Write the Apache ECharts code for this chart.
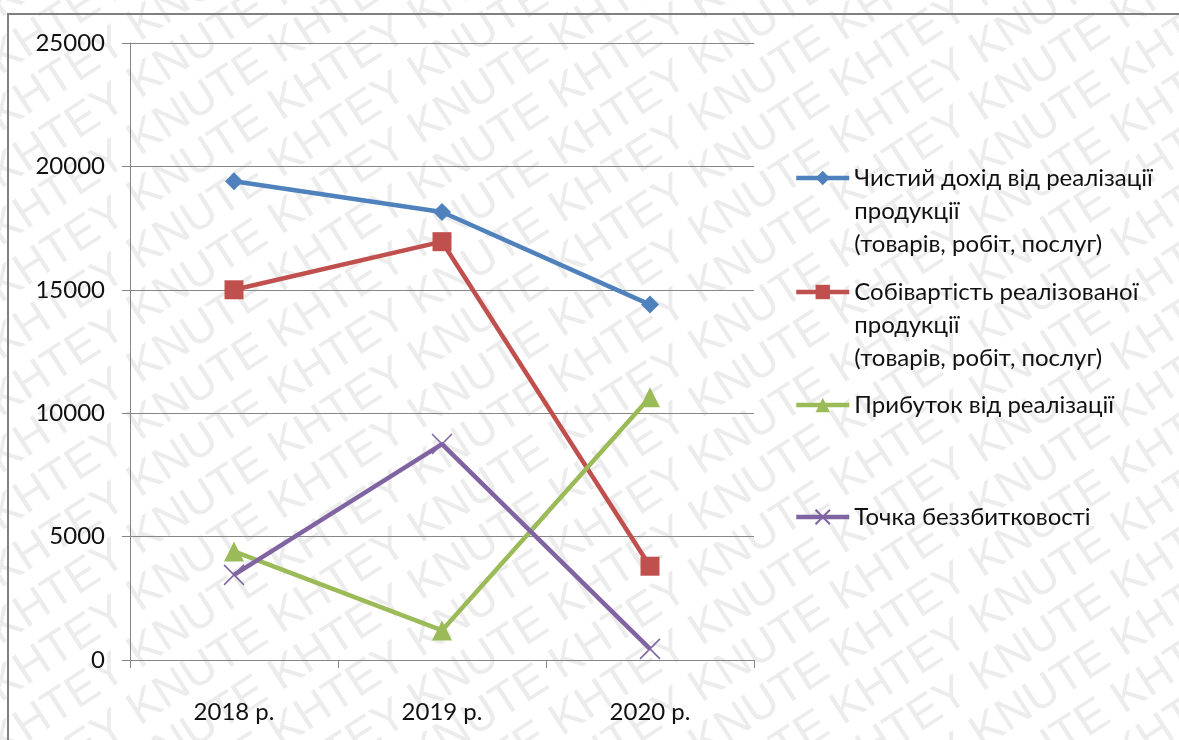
<!DOCTYPE html>
<html>
<head>
<meta charset="utf-8">
<script src="https://cdn.jsdelivr.net/npm/echarts@6/dist/echarts.min.js"></script>
<style>
html,body{margin:0;padding:0;background:#fff;}
#chart{width:1179px;height:740px;}
</style>
</head>
<body>
<div id="chart"></div>
<script>
const categories = ['2018 р.', '2019 р.', '2020 р.'];
const seriesNames = [
  'Чистий дохід від реалізації\nпродукції\n(товарів, робіт, послуг)',
  'Собівартість реалізованої\nпродукції\n(товарів, робіт, послуг)',
  'Прибуток від реалізації',
  'Точка беззбитковості'
];
const revenue = [19400, 18150, 14400];
const cost = [15000, 16950, 3800];
const profit = [4400, 1200, 10650];
const breakEven = [3450, 8750, 450];
const yMin = 0, yMax = 25000, yStep = 5000;

const FONT = 'Lato, "Open Sans", sans-serif';
const FS = 24;
const LH = 33;
const colors = ['#4f81bd', '#c0504d', '#9bbb59', '#8064a2'];

// watermark
const wm = [];
const ang = 33 * Math.PI / 180;
const wmText = Array(14).fill('KHTEY KNUTE').join(' ');
for (let i = -4; i < 36; i++) {
  wm.push({
    type: 'text', x: -300, y: i * 57, rotation: ang, z: -10, silent: true,
    style: { text: wmText, font: '46px "Liberation Sans", Arial, sans-serif', fill: '#ececec' }
  });
}

const chart = echarts.init(document.getElementById('chart'));
const iconY = [178, 292, 405, 517];
const legends = seriesNames.map((n, i) => {
  const lines = n.split('\n').length;
  const H = (2 * lines - 1) * LH;
  return {
    data: [n], left: 794, top: iconY[i] - H / 2, padding: 0, orient: 'vertical',
    itemWidth: 53, itemHeight: 18, selectedMode: false,
    lineStyle: { width: 4.5 },
    formatter: function (name) { return '\n'.repeat(lines - 1) + name; },
    textStyle: { fontFamily: FONT, fontSize: FS, color: '#111', lineHeight: LH }
  };
});

chart.setOption({
  backgroundColor: '#fff',
  animation: false,
  color: colors,
  graphic: wm.concat([{
    type: 'rect', shape: { x: 8, y: 14, width: 1400, height: 900 }, z: 100, silent: true,
    style: { fill: 'none', stroke: '#808080', lineWidth: 2 }
  }]),
  grid: { left: 130, right: 425, top: 43, bottom: 80 },
  legend: legends,
  xAxis: {
    type: 'category', data: categories, boundaryGap: true,
    axisLine: { lineStyle: { color: '#868686', width: 1 } },
    axisTick: { show: true, length: 8, lineStyle: { color: '#868686' } },
    axisLabel: { fontFamily: FONT, fontSize: FS, color: '#111', margin: 40 }
  },
  yAxis: {
    type: 'value', min: yMin, max: yMax, interval: yStep,
    axisLine: { show: true, lineStyle: { color: '#868686', width: 1 } },
    axisTick: { show: true, length: 8, lineStyle: { color: '#868686' } },
    splitLine: { lineStyle: { color: '#868686', width: 1 } },
    axisLabel: { fontFamily: FONT, fontSize: FS, color: '#111', margin: 25, formatter: function (v) { return String(v); } }
  },
  series: [
    { name: seriesNames[0], type: 'line', data: revenue, symbol: 'diamond', symbolSize: 18,
      lineStyle: { width: 4.5, color: colors[0] }, itemStyle: { color: colors[0] } },
    { name: seriesNames[1], type: 'line', data: cost, symbol: 'rect', symbolSize: 19,
      lineStyle: { width: 4.5, color: colors[1] }, itemStyle: { color: colors[1] } },
    { name: seriesNames[2], type: 'line', data: profit, symbol: 'triangle', symbolSize: 20,
      lineStyle: { width: 4.5, color: colors[2] }, itemStyle: { color: colors[2] } },
    { name: seriesNames[3], type: 'line', data: breakEven, symbol: 'path://M0,0L10,10M10,0L0,10', symbolSize: 20,
      lineStyle: { width: 4.5, color: colors[3] }, itemStyle: { color: colors[3], borderColor: colors[3], borderWidth: 1.5 } }
  ]
});
</script>
</body>
</html>
